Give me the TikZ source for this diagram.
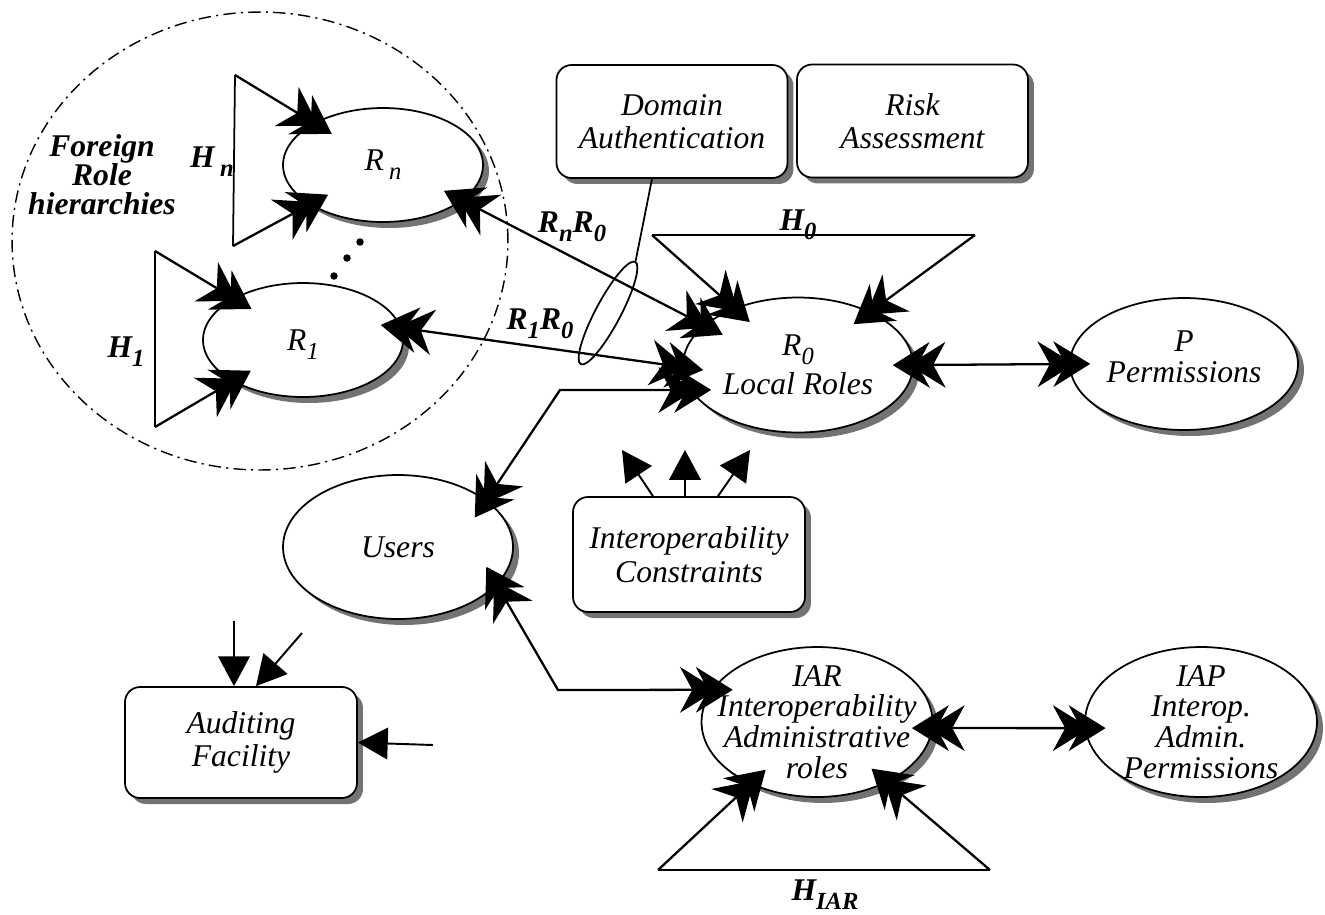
\documentclass[tikz,border=0pt]{standalone}
\usepackage{fontspec}
\setmainfont{Liberation Serif}
\usetikzlibrary{arrows.meta,shapes.geometric,shadows,calc}

% lowered, slightly smaller index after a letter
\newcommand\lowsub[1]{\raisebox{-0.28em}{\fontsize{14}{14}\selectfont #1}}

\begin{document}
\begin{tikzpicture}[x=0.02cm,y=-0.02cm,
  font=\fontsize{18}{17.5}\selectfont\itshape,
  castshadow/.style={general shadow={fill=black!55,shadow xshift=1.2mm,shadow yshift=-1.2mm}},
  role/.style={ellipse,draw,line width=1pt,fill=white,inner sep=0pt,castshadow},
  panel/.style={rectangle,rounded corners=0.3cm,draw,line width=1pt,fill=white,align=center,
    minimum width=4.62cm,minimum height=2.26cm,castshadow,font=\fontsize{18}{19}\selectfont\itshape},
  link/.style={line width=1.3pt},
  twohead/.style={link,-{Stealth[length=21pt,width=26pt,inset=7pt,sep=-12pt]Stealth[length=21pt,width=26pt,inset=7pt,sep=-12pt]}},
  bothtwo/.style={link,{Stealth[length=21pt,width=26pt,inset=7pt,sep=-12pt]Stealth[length=21pt,width=26pt,inset=7pt,sep=-12pt]}-{Stealth[length=21pt,width=26pt,inset=7pt,sep=-12pt]Stealth[length=21pt,width=26pt,inset=7pt,sep=-12pt]}},
  onehead/.style={line width=1.1pt,-{Triangle[length=17pt,width=18pt]}},
  lbl/.style={font=\fontsize{18}{16.5}\selectfont\bfseries\itshape,align=center,inner sep=0pt}
]
\useasboundingbox (0,0) rectangle (1325,914);

% foreign domain boundary
\draw[line width=0.8pt,dash pattern=on 7pt off 3pt on 1.2pt off 3pt]
  (260,241) ellipse [x radius=4.96cm,y radius=4.58cm];

% roles and permission sets
\node[role,minimum width=4cm,minimum height=2.28cm,
  label={center:R\kern3pt\lowsub{n}}] (Rn) at (383,165) {};
\node[role,minimum width=4cm,minimum height=2.28cm,
  label={[yshift=-0.1cm]center:R\lowsub{1}}] (R1) at (303,340) {};
\node[role,minimum width=4.6cm,minimum height=2.7cm,
  label={[align=center,font=\fontsize{18}{22}\selectfont\itshape]center:R\lowsub{0}\\Local Roles}] (R0) at (798,365) {};
\node[role,minimum width=4.56cm,minimum height=2.64cm,
  label={[align=center,yshift=0.15cm]center:P\\Permissions}] (P) at (1184,364) {};
\node[role,minimum width=4.6cm,minimum height=2.88cm,
  label={center:Users}] (Users) at (398,547) {};
\node[role,minimum width=4.62cm,minimum height=3cm,
  label={[align=center]center:IAR\\Interoperability\\Administrative\\roles}] (IAR) at (817,722) {};
\node[role,minimum width=4.64cm,minimum height=3cm,
  label={[align=center]center:IAP\\Interop.\\Admin.\\Permissions}] (IAP) at (1201,722) {};

% rectangular components
\node[panel] (DA) at (672,121.5) {Domain\\Authentication};
\node[panel] (RA) at (912.5,121) {Risk\\Assessment};
\node[panel,minimum width=4.64cm,minimum height=2.3cm] (IC) at (689,554.5) {Interoperability\\Constraints};
\node[panel,minimum width=4.64cm,minimum height=2.22cm] (AF) at (241,742.5) {Auditing\\Facility};

% role hierarchy triangles
\coordinate (hnA) at (235,75);  \coordinate (hnB) at (233,246);
\coordinate (h1A) at (155,251); \coordinate (h1B) at (155,427);
\coordinate (h0A) at (652,235); \coordinate (h0B) at (975,235);
\coordinate (hiA) at (658,870); \coordinate (hiB) at (990,870);
\draw[line width=1pt] (hnA) -- (hnB);
\draw[line width=1pt] (h1A) -- (h1B);
\draw[line width=1pt] (h0A) -- (h0B);
\draw[line width=1pt] (hiA) -- (hiB);
\draw[twohead] (hnA) -- (Rn);
\draw[twohead] (hnB) -- (Rn);
\draw[twohead] (h1A) -- (R1);
\draw[twohead] (h1B) -- (R1);
\draw[twohead] (h0A) -- (R0);
\draw[twohead] (h0B) -- (R0);
\draw[twohead] (hiA) -- (IAR);
\draw[twohead] (hiB) -- (IAR);

% ellipsis between the foreign hierarchies
\node[circle,fill,inner sep=0pt,minimum size=0.15cm] (d1) at (360,242) {};
\node[circle,fill,inner sep=0pt,minimum size=0.15cm] (d2) at (347,258) {};
\node[circle,fill,inner sep=0pt,minimum size=0.15cm] (d3) at (334,276) {};

% role mappings
\draw[bothtwo] (Rn.-24) -- (R0.157);
\draw[bothtwo] (R1.7) -- (R0.181);
\draw[bothtwo] (R0.east) -- (P.west);
\draw[bothtwo] (IAR.-3) -- (IAP.183);
\coordinate (uj) at (560,390);
\coordinate (aj) at (558,690);
\draw[bothtwo] (Users.28) -- (uj) -- (R0.193);
\draw[bothtwo] (Users.-21) -- (aj) -- (IAR.163);

% authentication ring on the mapping links
\node[ellipse,draw,line width=1pt,minimum width=2.32cm,minimum height=0.5cm,inner sep=0pt,rotate=62] (ring) at (608,313) {};
\draw[line width=1pt] ($(DA.south)+(-20,0)$) -- (ring.east);

% constraint and audit arrows
\coordinate (ic1) at (622,450);
\coordinate (ic2) at (685,450);
\coordinate (ic3) at (750,450);
\draw[onehead] ($(IC.north)+(-36,0)$) -- (ic1);
\draw[onehead] ($(IC.north)+(-4,0)$) -- (ic2);
\draw[onehead] ($(IC.north)+(29,0)$) -- (ic3);
\coordinate (au1) at (234,621);
\coordinate (au2) at (302,633);
\coordinate (au3) at (433,745);
\draw[onehead] (au1) -- ($(AF.north)+(-7,0)$);
\draw[onehead] (au2) -- ($(AF.north)+(15,0)$);
\draw[onehead] (au3) -- (AF.east);

% labels
\node[lbl] (fr) at (102,175) {Foreign\\Role\\hierarchies};
\node[lbl] (hn) at (212,162) {H\kern3pt\lowsub{n}};
\node[lbl] (h1) at (126,352) {H\lowsub{1}};
\node[lbl] (h0) at (798,225) {H\lowsub{0}};
\node[lbl] (hiar) at (825,895) {H\lowsub{IAR}};
\node[lbl] (rnr0) at (572,227) {R\lowsub{n}R\lowsub{0}};
\node[lbl] (r1r0) at (540,324) {R\lowsub{1}R\lowsub{0}};
\end{tikzpicture}
\end{document}
